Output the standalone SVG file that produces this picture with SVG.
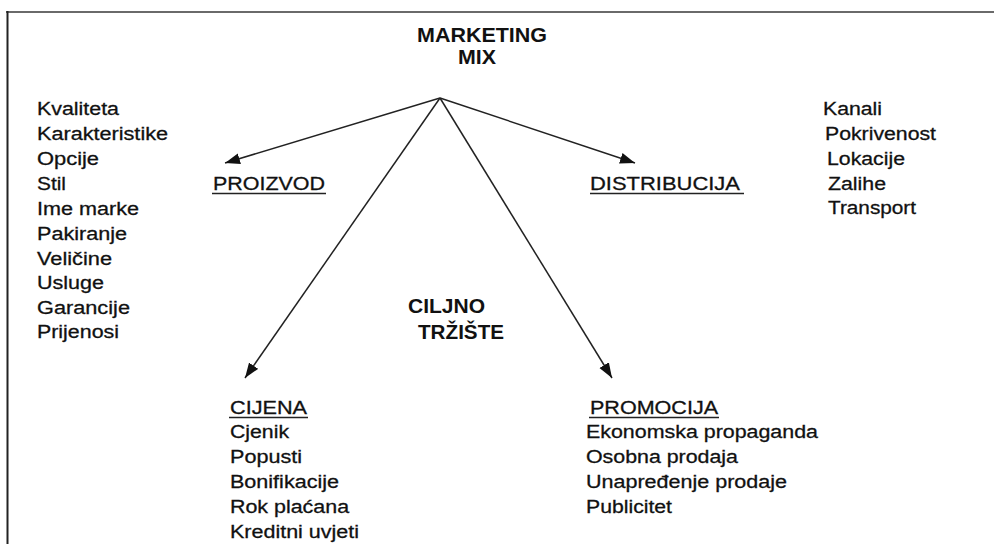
<svg xmlns="http://www.w3.org/2000/svg" width="994" height="544" viewBox="0 0 994 544">
  <defs>
    <style>
      text { font-family: "Liberation Sans", Arial, sans-serif; fill: #111; }
      .t { font-size: 19px; stroke: #111; stroke-width: 0.3px; }
      .b { font-size: 20px; font-weight: bold; }
      .ul { stroke: #222; stroke-width: 1.6; }
      .conn { stroke: #222; stroke-width: 1.5; fill: none; }
    </style>
    <marker id="arrow" markerUnits="userSpaceOnUse" markerWidth="16" markerHeight="12" refX="15" refY="6" orient="auto">
      <path d="M0,0.5 L15,6 L0,11.5 z" fill="#111"/>
    </marker>
  </defs>
  <rect width="994" height="544" fill="#fff"/>
  <g id="frame">
    <line x1="6" y1="12" x2="994" y2="12" stroke="#6a6a6a" stroke-width="2"/>
    <line x1="7.5" y1="11" x2="7.5" y2="544" stroke="#222" stroke-width="2"/>
  </g>
  <g id="connectors">
    <line class="conn" x1="440" y1="98" x2="225" y2="163" marker-end="url(#arrow)"/>
    <line class="conn" x1="440" y1="98" x2="635" y2="163" marker-end="url(#arrow)"/>
    <line class="conn" x1="440" y1="98" x2="245" y2="378" marker-end="url(#arrow)"/>
    <line class="conn" x1="440" y1="98" x2="612" y2="378" marker-end="url(#arrow)"/>
  </g>
  <g id="marketing-mix">
    <text class="b" transform="matrix(1.07 0 0 1 417 42)" textLength="121.5" lengthAdjust="spacingAndGlyphs">MARKETING</text>
    <text class="b" transform="matrix(1.07 0 0 1 458 64)" textLength="35.5" lengthAdjust="spacingAndGlyphs">MIX</text>
  </g>
  <g id="ciljno-trziste">
    <text class="b" transform="matrix(1.07 0 0 1 408 313)" textLength="72" lengthAdjust="spacingAndGlyphs">CILJNO</text>
    <text class="b" transform="matrix(1.07 0 0 1 418 339)" textLength="80.4" lengthAdjust="spacingAndGlyphs">TRŽIŠTE</text>
  </g>
  <g id="proizvod">
    <text class="t" transform="matrix(1.12 0 0 1 213 190)" textLength="100" lengthAdjust="spacingAndGlyphs">PROIZVOD</text>
    <line class="ul" x1="212" y1="193.5" x2="326" y2="193.5"/>
    <text class="t" transform="matrix(1.12 0 0 1 37 115)" textLength="73.2" lengthAdjust="spacingAndGlyphs">Kvaliteta</text>
    <text class="t" transform="matrix(1.12 0 0 1 37 140)" textLength="117" lengthAdjust="spacingAndGlyphs">Karakteristike</text>
    <text class="t" transform="matrix(1.12 0 0 1 37 165)" textLength="55.4" lengthAdjust="spacingAndGlyphs">Opcije</text>
    <text class="t" transform="matrix(1.12 0 0 1 37 190)" textLength="25.9" lengthAdjust="spacingAndGlyphs">Stil</text>
    <text class="t" transform="matrix(1.12 0 0 1 37 215)" textLength="91.1" lengthAdjust="spacingAndGlyphs">Ime marke</text>
    <text class="t" transform="matrix(1.12 0 0 1 37 240)" textLength="80.4" lengthAdjust="spacingAndGlyphs">Pakiranje</text>
    <text class="t" transform="matrix(1.12 0 0 1 37 265)" textLength="67" lengthAdjust="spacingAndGlyphs">Veličine</text>
    <text class="t" transform="matrix(1.12 0 0 1 37 289)" textLength="59.8" lengthAdjust="spacingAndGlyphs">Usluge</text>
    <text class="t" transform="matrix(1.12 0 0 1 37 314)" textLength="83" lengthAdjust="spacingAndGlyphs">Garancije</text>
    <text class="t" transform="matrix(1.12 0 0 1 37 338)" textLength="73.2" lengthAdjust="spacingAndGlyphs">Prijenosi</text>
  </g>
  <g id="distribucija">
    <text class="t" transform="matrix(1.12 0 0 1 590 190)" textLength="133.9" lengthAdjust="spacingAndGlyphs">DISTRIBUCIJA</text>
    <line class="ul" x1="590" y1="193.5" x2="744" y2="193.5"/>
    <text class="t" transform="matrix(1.12 0 0 1 823 115)" textLength="52.7" lengthAdjust="spacingAndGlyphs">Kanali</text>
    <text class="t" transform="matrix(1.12 0 0 1 825 140)" textLength="99.1" lengthAdjust="spacingAndGlyphs">Pokrivenost</text>
    <text class="t" transform="matrix(1.12 0 0 1 827 165)" textLength="69.6" lengthAdjust="spacingAndGlyphs">Lokacije</text>
    <text class="t" transform="matrix(1.12 0 0 1 828 190)" textLength="51.8" lengthAdjust="spacingAndGlyphs">Zalihe</text>
    <text class="t" transform="matrix(1.12 0 0 1 828 214)" textLength="78.6" lengthAdjust="spacingAndGlyphs">Transport</text>
  </g>
  <g id="cijena">
    <text class="t" transform="matrix(1.12 0 0 1 230 414)" textLength="68.8" lengthAdjust="spacingAndGlyphs">CIJENA</text>
    <line class="ul" x1="229" y1="417.5" x2="308" y2="417.5"/>
    <text class="t" transform="matrix(1.12 0 0 1 230 438)" textLength="52.7" lengthAdjust="spacingAndGlyphs">Cjenik</text>
    <text class="t" transform="matrix(1.12 0 0 1 230 463)" textLength="64.3" lengthAdjust="spacingAndGlyphs">Popusti</text>
    <text class="t" transform="matrix(1.12 0 0 1 230 488)" textLength="97.3" lengthAdjust="spacingAndGlyphs">Bonifikacije</text>
    <text class="t" transform="matrix(1.12 0 0 1 230 513)" textLength="106.3" lengthAdjust="spacingAndGlyphs">Rok plaćana</text>
    <text class="t" transform="matrix(1.12 0 0 1 230 538)" textLength="115.2" lengthAdjust="spacingAndGlyphs">Kreditni uvjeti</text>
  </g>
  <g id="promocija">
    <text class="t" transform="matrix(1.12 0 0 1 590 414)" textLength="114.3" lengthAdjust="spacingAndGlyphs">PROMOCIJA</text>
    <line class="ul" x1="589" y1="417.5" x2="719" y2="417.5"/>
    <text class="t" transform="matrix(1.12 0 0 1 586 438)" textLength="207.1" lengthAdjust="spacingAndGlyphs">Ekonomska propaganda</text>
    <text class="t" transform="matrix(1.12 0 0 1 586 463)" textLength="135.7" lengthAdjust="spacingAndGlyphs">Osobna prodaja</text>
    <text class="t" transform="matrix(1.12 0 0 1 586 488)" textLength="179.5" lengthAdjust="spacingAndGlyphs">Unapređenje prodaje</text>
    <text class="t" transform="matrix(1.12 0 0 1 586 513)" textLength="76.8" lengthAdjust="spacingAndGlyphs">Publicitet</text>
  </g>
</svg>
